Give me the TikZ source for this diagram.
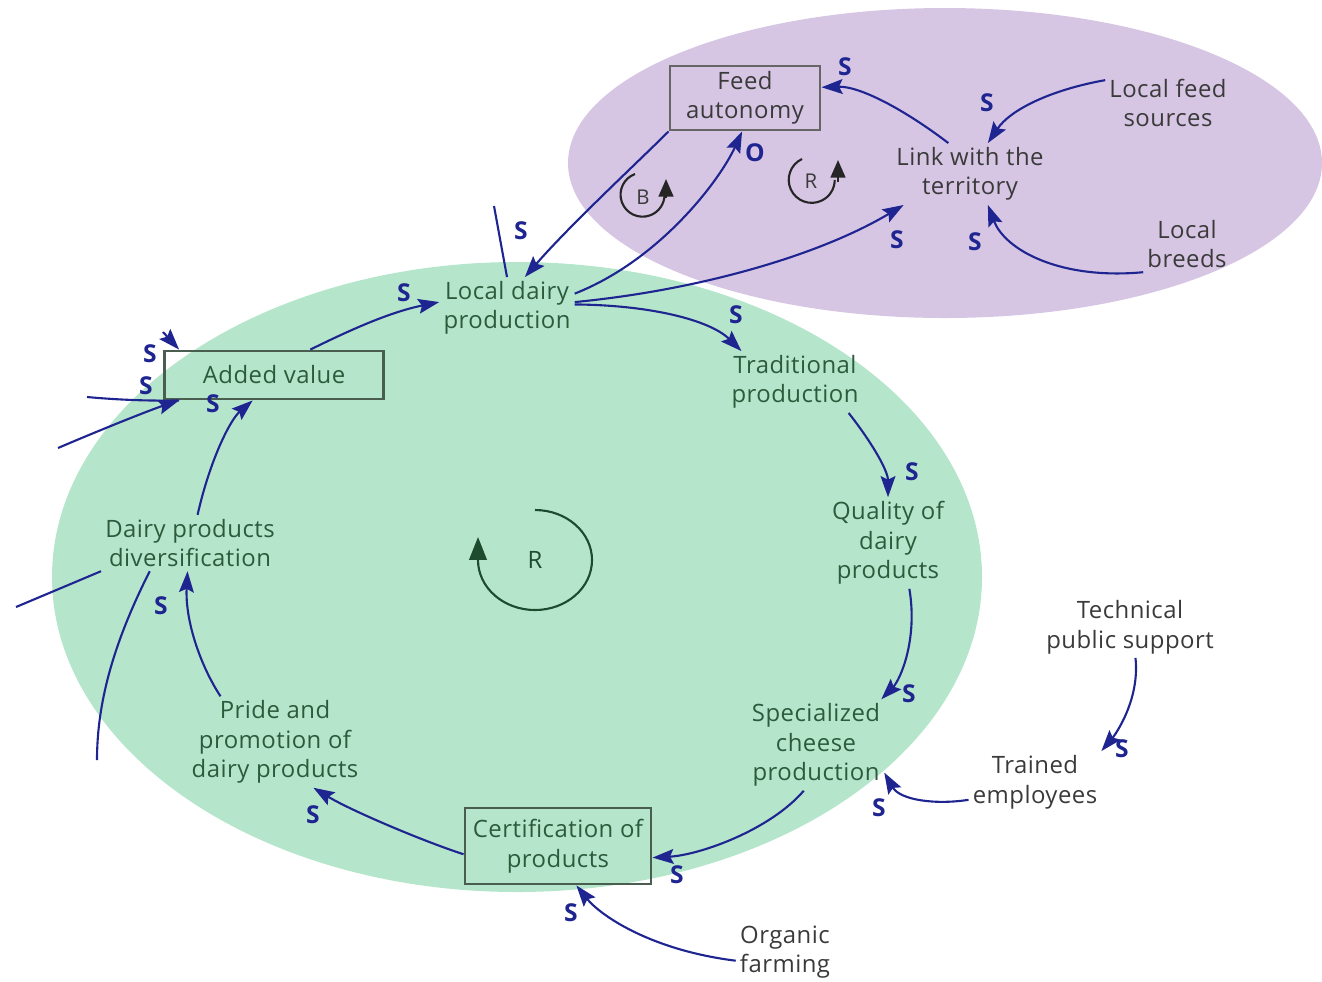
\documentclass[tikz,border=0pt]{standalone}
\usepackage{fontspec}
\setmainfont{Open Sans}[LetterSpace=2]
\usetikzlibrary{arrows.meta}
\definecolor{dairygreen}{HTML}{B5E6CC}
\definecolor{terrlilac}{HTML}{D6C6E4}
\definecolor{linkblue}{HTML}{1F2590}
\definecolor{vartext}{HTML}{2E5A3C}
\definecolor{greytext}{HTML}{3A3A3A}
\definecolor{boxline}{HTML}{4A5E50}
\definecolor{loopgreen}{HTML}{1E4A2E}

\begin{document}
\begin{tikzpicture}[x=0.01cm,y=-0.01cm,
    var/.style={align=center,font=\fontsize{6.8}{8.4}\selectfont,text=vartext,inner sep=1pt},
    ext/.style={var,text=greytext},
    box/.style={draw=boxline,line width=0.8pt,inner sep=0pt},
    link/.style={draw=linkblue,line width=0.6pt,-{Stealth[length=6pt,width=4.2pt,inset=1pt]}},
    plain/.style={draw=linkblue,line width=0.6pt},
    pol/.style={font=\fontsize{7}{8}\selectfont\bfseries,text=linkblue,inner sep=0pt},
    loopmark/.style={line width=0.6pt},
    looptip/.style={-{Triangle[length=5pt,width=4.2pt]}},
    bigtip/.style={-{Triangle[length=6.5pt,width=5pt]}}]

  \useasboundingbox (0,0) rectangle (1322,981);
  \fill[dairygreen] (517,577) ellipse [x radius=465, y radius=315];
  \fill[terrlilac] (945,163) ellipse [x radius=377, y radius=155];

  \node[ext,box,draw=gray!80!black,minimum width=1.5cm,minimum height=0.64cm] (fa) at (745,98) {Feed\\autonomy};
  \node[ext] (lt) at (970,174) {Link with the\\territory};
  \node[ext] (lfs) at (1168,103) {Local feed\\sources};
  \node[ext] (lb) at (1187,244) {Local\\breeds};
  \node[var] (ldp) at (507,308) {Local dairy\\production};
  \node[var] (tp) at (795,382) {Traditional\\production};
  \node[var] (qdp) at (888,543) {Quality of\\dairy\\products};
  \node[var] (scp) at (816,745) {Specialized\\cheese\\production};
  \node[ext] (tps) at (1130,627) {Technical\\public support};
  \node[ext] (te) at (1035,782) {Trained\\employees};
  \node[var,box,minimum width=1.86cm,minimum height=0.76cm] (cop) at (558,846) {Certification of\\products};
  \node[ext] (of) at (785,952) {Organic\\farming};
  \node[var] (ppd) at (275,742) {Pride and\\promotion of\\dairy products};
  \node[var] (dpd) at (190,543) {Dairy products\\diversification};
  \node[var,box,minimum width=2.19cm,minimum height=0.48cm] (av) at (274,375) {Added value};

  \coordinate (in1) at (58,448);
  \coordinate (in2) at (87,397);
  \coordinate (in3) at (163,332);
  \coordinate (out1) at (16,607);
  \coordinate (out2) at (97,760);
  \coordinate (out3) at (494,206);

  \draw[link] (lt.125) .. controls (905,110) and (860,86) .. (fa.8) node[pol,at={(845,67)}] {S};
  \draw[link] (fa.south west) .. controls (640,160) and (570,225) .. (ldp.60) node[pol,at={(521,231)}] {S};
  \draw[link] (ldp.12) .. controls (660,260) and (720,180) .. (fa.-95) node[pol,at={(755,153)}] {O};
  \draw[link] (ldp.5) .. controls (700,290) and (820,255) .. (lt.205) node[pol,at={(897,240)}] {S};
  \draw[link] (lfs.160) .. controls (1050,90) and (1010,110) .. (lt.60) node[pol,at={(987,103)}] {S};
  \draw[link] (lb.south west) .. controls (1060,280) and (1005,250) .. (lt.-60) node[pol,at={(975,242)}] {S};
  \draw[link] (ldp.3) .. controls (650,305) and (710,320) .. (tp.150) node[pol,at={(736,315)}] {S};
  \draw[link] (tp.-30) .. controls (870,440) and (888,470) .. (qdp.north) node[pol,at={(912,472)}] {S};
  \draw[link] (qdp.-65) .. controls (918,640) and (900,680) .. (scp.35) node[pol,at={(909,694)}] {S};
  \draw[link] (tps.-80) .. controls (1140,700) and (1115,735) .. (te.25) node[pol,at={(1122,749)}] {S};
  \draw[link] (te.195) .. controls (935,805) and (900,800) .. (scp.-22) node[pol,at={(879,808)}] {S};
  \draw[link] (scp.-105) .. controls (770,830) and (700,855) .. (cop.-7) node[pol,at={(677,875)}] {S};
  \draw[link] (of.190) .. controls (650,950) and (600,915) .. (cop.-65) node[pol,at={(571,913)}] {S};
  \draw[link] (cop.185) .. controls (420,840) and (350,810) .. (ppd.-50) node[pol,at={(313,815)}] {S};
  \draw[link] (ppd.140) .. controls (200,665) and (185,620) .. (dpd.-95) node[pol,at={(161,606)}] {S};
  \draw[link] (dpd.75) .. controls (210,460) and (230,420) .. (av.-130) node[pol,at={(213,404)}] {S};
  \draw[link] (av.35) .. controls (350,330) and (390,312) .. (ldp.175) node[pol,at={(404,293)}] {S};

  \draw[link] (in1) .. controls (100,430) and (150,410) .. (av.-165) node[pol,at={(146,386)}] {S};
  \draw[plain] (in2) .. controls (120,400) and (150,401) .. (av.-165);
  \draw[link] (in3) -- (av.165) node[pol,at={(150,354)}] {S};
  \draw[plain] (dpd.south west) -- (out1);
  \draw[plain] (dpd.-145) .. controls (115,640) and (97,700) .. (out2);
  \draw[plain] (ldp.north) -- (out3);

  \draw[loopmark,draw=loopgreen] (535,510) arc[start angle=-90, end angle=180, x radius=57, y radius=50];
  \draw[loopmark,draw=loopgreen,fill=loopgreen,bigtip] (478,562) -- (478,537);
  \node[var,text=loopgreen] (loopr) at (535,560) {R};
  \draw[loopmark,draw=black!85] (635,174) arc[start angle=-110, end angle=-360, radius=22];
  \draw[loopmark,draw=black!85,looptip] (666,198) -- (666,179);
  \node[ext,font=\fontsize{5.8}{7}\selectfont] (loopb) at (643,197) {B};
  \draw[loopmark,draw=black!85] (802,159) arc[start angle=-115, end angle=-360, radius=23];
  \draw[loopmark,draw=black!85,looptip] (838,182) -- (838,160);
  \node[ext,font=\fontsize{5.8}{7}\selectfont] (loopt) at (811,181) {R};
\end{tikzpicture}
\end{document}
